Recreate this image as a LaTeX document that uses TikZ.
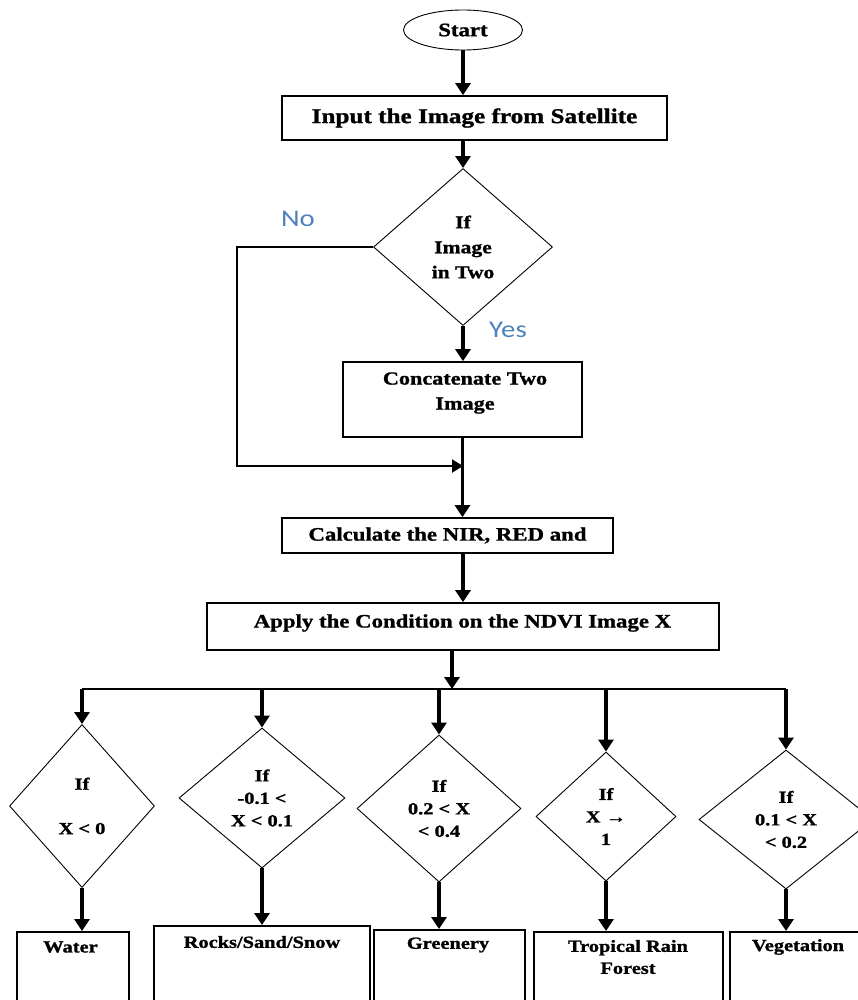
\documentclass[tikz,border=0pt]{standalone}
\usepackage{fontspec}
\setmainfont{Liberation Serif}[FakeStretch=1.2, BoldFeatures={FakeBold=1.2}]
\newfontfamily\lblfont{Carlito}[FakeStretch=1.2]
\usetikzlibrary{shapes.geometric,arrows.meta}
\definecolor{lblblue}{RGB}{79,129,189}
\begin{document}
\begin{tikzpicture}[x=1pt,y=-1pt,
  box/.style={draw, line width=1.6pt, inner sep=0pt},
  dia/.style={draw, diamond, line width=0.9pt, inner sep=0pt, align=center,
    font=\bfseries\fontsize{17}{22.5}\selectfont},
  txt/.style={font=\bfseries\fontsize{19}{25}\selectfont, align=center, inner sep=0pt},
  stxt/.style={font=\bfseries\fontsize{17}{22}\selectfont, align=center, inner sep=0pt},
  arr/.style={line width=3.5pt, -{Triangle[length=12pt,width=15pt]}},
  harr/.style={line width=2.2pt, -{Triangle[length=11pt,width=13pt]}},
  ln/.style={line width=2pt},
  yn/.style={font=\lblfont\fontsize{24}{28}\selectfont, text=lblblue, inner sep=0pt}
]
\clip (0,0) rectangle (858,1000);

% top part
\node[draw, ellipse, line width=0.9pt, minimum width=119pt, minimum height=40pt,
      inner sep=0pt, txt] (start) at (463,30) {Start};
\node[box, minimum width=385pt, minimum height=44pt, txt,
      font=\bfseries\fontsize{21}{25}\selectfont] (b1) at (474.5,118) {Input the Image from Satellite};
\node[dia, minimum width=179pt, minimum height=157pt,
      font=\bfseries\fontsize{18}{25}\selectfont] (d1) at (463,247) {If\\Image\\in Two};
\node[box, minimum width=239pt, minimum height=75pt] (b2) at (462.5,399.5) {};
\node[txt, font=\bfseries\fontsize{18.5}{25}\selectfont] (t2) at (465,393) {Concatenate Two\\Image};
\node[box, minimum width=331pt, minimum height=35pt, txt] (b3) at (447.5,535.5) {Calculate the NIR, RED and};
\node[box, minimum width=512pt, minimum height=47pt] (b4) at (463,626.5) {};
\node[txt] (t4) at (462.5,623) {Apply the Condition on the NDVI Image X};

\node[yn] (no) at (298,219) {No};
\node[yn] (yes) at (508,330) {Yes};

\coordinate (j1) at (463,466);
\coordinate (c1) at (237,466);
\coordinate (j2) at (452,689);

\draw[arr] (start.south) -- (start.south |- b1.north);
\draw[arr] (b1.south -| d1.north) -- (d1.north);
\draw[arr] (d1.south) -- (d1.south |- b2.north);
\draw[harr] (d1.west) -| (c1) -- (j1);
\draw[arr] (b2.south) -- (b2.south |- b3.north);
\draw[arr] (b3.south -| b4.north) -- (b4.north);
\draw[arr] (b4.south -| j2) -- (j2);

% decision diamonds
\node[dia, minimum width=145pt, minimum height=163pt] (dw) at (82,806) {If\\[22pt]X < 0};
\node[dia, minimum width=166pt, minimum height=140pt] (dr) at (262,798) {If\\-0.1 <\\X < 0.1};
\node[dia, minimum width=164pt, minimum height=147pt] (dg) at (439,808.5) {If\\0.2 < X\\< 0.4};
\node[dia, minimum width=140pt, minimum height=129pt] (dt) at (606,816.5) {If\\X →\\1};
\node[dia, minimum width=174pt, minimum height=139pt] (dv) at (786,819.5) {If\\0.1 < X\\< 0.2};

\draw[ln] (dw.north |- j2) -- (dv.north |- j2);
\foreach \d in {dw,dr,dg,dt,dv}
  \draw[arr] (\d.north |- j2) -- (\d.north);

% result boxes
\node[box, anchor=north west, minimum width=112pt, minimum height=80pt] (bw) at (16,931) {};
\node[box, anchor=north west, minimum width=216pt, minimum height=86pt] (br) at (153,925) {};
\node[box, anchor=north west, minimum width=151pt, minimum height=82pt] (bg) at (373,929) {};
\node[box, anchor=north west, minimum width=189pt, minimum height=80pt] (bt) at (533,931) {};
\node[box, anchor=north west, minimum width=171pt, minimum height=80pt] (bv) at (729,931) {};

\node[stxt] (tw) at (70.5,947) {Water};
\node[stxt] (tr) at (262,942) {Rocks/Sand/Snow};
\node[stxt] (tg) at (448,945) {Greenery};
\node[stxt] (tt) at (628,957) {Tropical Rain\\Forest};
\node[stxt] (tv) at (798,947) {Vegetation};

\draw[arr] (dw.south) -- (dw.south |- bw.north);
\draw[arr] (dr.south) -- (dr.south |- br.north);
\draw[arr] (dg.south) -- (dg.south |- bg.north);
\draw[arr] (dt.south) -- (dt.south |- bt.north);
\draw[arr] (dv.south) -- (dv.south |- bv.north);
\end{tikzpicture}
\end{document}
